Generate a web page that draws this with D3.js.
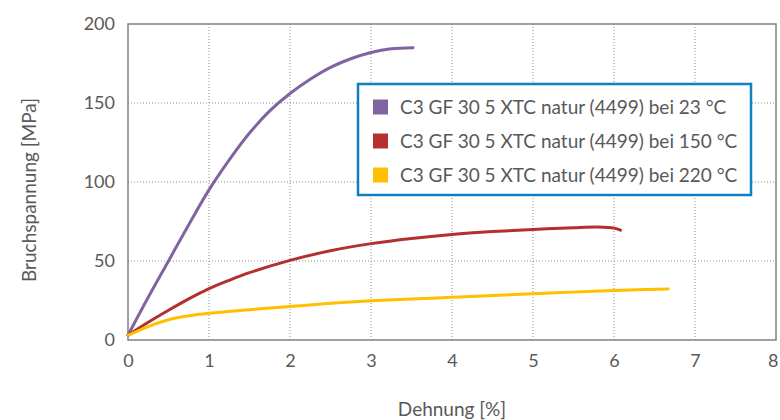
<!DOCTYPE html>
<html>
<head>
<meta charset="utf-8">
<script src="https://cdn.jsdelivr.net/npm/d3@7"></script>
<style>
  body { margin: 0; background: #fff; }
  text { font-family: Lato, "Open Sans", sans-serif; fill: #595959; }
</style>
</head>
<body>
<div id="chart"></div>
<script>
// Dehnung [%] vs. Bruchspannung [MPa]
const seriesNames = [
    'C3 GF 30 5 XTC natur (4499) bei 23 °C',
    'C3 GF 30 5 XTC natur (4499) bei 150 °C',
    'C3 GF 30 5 XTC natur (4499) bei 220 °C'
];
const strain23 = [0, 0.25, 0.5, 0.75, 1, 1.25, 1.5, 1.75, 2, 2.25, 2.5, 2.75, 3, 3.25, 3.52];
const stress23 = [3, 27, 50, 73, 95, 114, 131, 145, 156, 165, 172.5, 178, 182, 184.3, 185];
const strain150 = [0, 0.25, 0.5, 0.75, 1, 1.25, 1.5, 2, 2.5, 3, 3.5, 4, 4.5, 5, 5.5, 5.8, 6.0, 6.08];
const stress150 = [3, 11.2, 18.8, 26, 32.5, 37.8, 42.6, 50.4, 56.5, 61, 64.3, 66.8, 68.6, 70, 71.1, 71.5, 70.8, 69.5];
const strain220 = [0, 0.25, 0.5, 0.75, 1, 1.5, 2, 2.5, 3, 3.5, 4, 4.5, 5, 5.5, 6, 6.67];
const stress220 = [3, 8.5, 12.8, 15.3, 16.9, 19.2, 21.2, 23.2, 24.8, 26, 27, 28.2, 29.3, 30.3, 31.3, 32.3];
const xTicks = [0, 1, 2, 3, 4, 5, 6, 7, 8];
const yTicks = [0, 50, 100, 150, 200];

const colors = ['#8064A2', '#B3302F', '#FFC000'];

const width = 780, height = 420;
const margin = { top: 24, right: 4, bottom: 80, left: 128 };

const svg = d3.select('#chart').append('svg')
    .attr('width', width)
    .attr('height', height);

const x = d3.scaleLinear().domain([0, 8]).range([margin.left, width - margin.right]);
const y = d3.scaleLinear().domain([0, 200]).range([height - margin.bottom, margin.top]);

// grid (dotted)
const grid = svg.append('g');
grid.selectAll('line.vx')
    .data(xTicks.filter(t => t > 0 && t < 8))
    .join('line')
    .attr('x1', d => x(d)).attr('x2', d => x(d))
    .attr('y1', y(0)).attr('y2', y(200))
    .attr('stroke', '#8c8c8c').attr('stroke-width', 1)
    .attr('stroke-dasharray', '1,2');
grid.selectAll('line.hy')
    .data(yTicks.filter(t => t > 0 && t < 200))
    .join('line')
    .attr('x1', x(0)).attr('x2', x(8))
    .attr('y1', d => y(d)).attr('y2', d => y(d))
    .attr('stroke', '#8c8c8c').attr('stroke-width', 1)
    .attr('stroke-dasharray', '1,2');

// frame
svg.append('rect')
    .attr('x', x(0)).attr('y', y(200))
    .attr('width', x(8) - x(0)).attr('height', y(0) - y(200))
    .attr('fill', 'none').attr('stroke', '#808080').attr('stroke-width', 1.5);

// axes
const xAxis = svg.append('g')
    .attr('transform', `translate(0, ${y(0)})`)
    .call(d3.axisBottom(x).tickValues(xTicks).tickSize(0).tickPadding(14).tickFormat(d3.format('d')));
const yAxis = svg.append('g')
    .attr('transform', `translate(${x(0)}, 0)`)
    .call(d3.axisLeft(y).tickValues(yTicks).tickSize(0).tickPadding(13).tickFormat(d3.format('d')));
[xAxis, yAxis].forEach(a => {
    a.select('.domain').remove();
    a.selectAll('text').style('font-size', '18px').attr('fill', '#595959');
});
// last x label sits right at the edge, as in the reference
xAxis.selectAll('.tick text').filter(d => d === 8).attr('text-anchor', 'end').attr('dx', 2);

// titles
svg.append('text')
    .attr('x', x(4)).attr('y', 416)
    .attr('text-anchor', 'middle')
    .style('font-size', '19px')
    .text('Dehnung [%]');
svg.append('text')
    .attr('transform', 'translate(36, 190) rotate(-90)')
    .attr('text-anchor', 'middle')
    .style('font-size', '19px')
    .text('Bruchspannung [MPa]');

// curves
const series = [
    d3.zip(strain23, stress23),
    d3.zip(strain150, stress150),
    d3.zip(strain220, stress220)
];
const line = d3.line()
    .x(d => x(d[0]))
    .y(d => y(d[1]))
    .curve(d3.curveCatmullRom.alpha(0.5));
svg.append('g')
    .selectAll('path')
    .data(series)
    .join('path')
    .attr('d', line)
    .attr('fill', 'none')
    .attr('stroke', (d, i) => colors[i])
    .attr('stroke-width', 3)
    .attr('stroke-linecap', 'round');

// legend
const legend = svg.append('g');
legend.append('rect')
    .attr('x', 358).attr('y', 84)
    .attr('width', 393).attr('height', 111)
    .attr('fill', '#fff')
    .attr('stroke', '#0E7FC1').attr('stroke-width', 2.5);
const rows = legend.selectAll('g.row')
    .data(seriesNames)
    .join('g')
    .attr('class', 'row')
    .attr('transform', (d, i) => `translate(373, ${107 + i * 34})`);
rows.append('rect')
    .attr('x', 0).attr('y', -7.5)
    .attr('width', 15).attr('height', 15)
    .attr('fill', (d, i) => colors[i]);
rows.append('text')
    .attr('x', 27).attr('y', 0)
    .attr('dy', '0.35em')
    .style('font-size', '19px')
    .text(d => d);
</script>
</body>
</html>
